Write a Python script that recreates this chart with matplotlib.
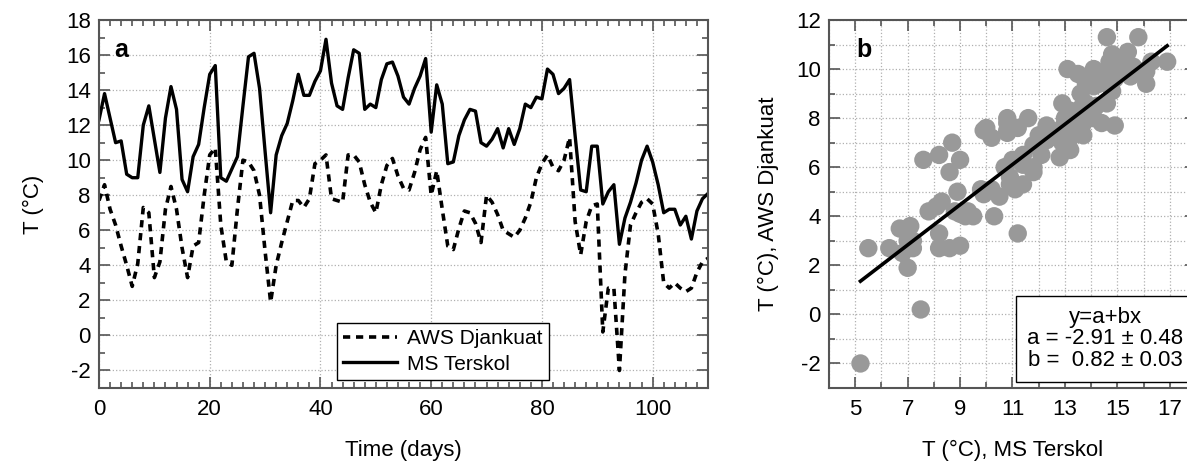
import numpy as np
import matplotlib.pyplot as plt
from matplotlib.ticker import MultipleLocator

plt.rcParams['font.family'] = ['Liberation Sans', 'DejaVu Sans']
plt.rcParams['axes.unicode_minus'] = False

# Daily mean air temperature, days 0..110

days = np.arange(0, 111)

t_terskol = [12.3, 13.8, 12.4, 11.0, 11.1, 9.2, 9.0, 9.0, 12.0, 13.1,
             11.2, 9.3, 12.4, 14.2, 12.9, 8.9, 8.2, 10.2, 10.9, 13.0,
             14.9, 15.4, 9.0, 8.8, 9.5, 10.2, 13.1, 15.9, 16.1, 14.1,
             10.5, 7.0, 10.3, 11.4, 12.1, 13.4, 14.9, 13.7, 13.7, 14.5,
             15.1, 16.9, 14.4, 13.1, 12.9, 14.7, 16.3, 16.1, 12.9, 13.2,
             13.0, 14.6, 15.5, 15.6, 14.8, 13.6, 13.2, 14.1, 14.8, 15.8,
             11.6, 14.3, 13.2, 9.8, 9.9, 11.4, 12.3, 12.9, 12.8, 11.0,
             10.8, 11.2, 11.8, 10.7, 11.8, 10.9, 11.8, 13.2, 13.0, 13.6,
             13.5, 15.2, 14.9, 13.8, 14.1, 14.6, 11.4, 8.3, 8.2, 10.8,
             10.8, 7.5, 8.2, 8.6, 5.2, 6.7, 7.6, 8.7, 10.0, 10.8,
             9.9, 8.6, 7.0, 7.2, 7.2, 6.3, 6.8, 5.5, 7.1, 7.8,
             8.1]

t_djankuat = [7.7, 8.6, 7.2, 6.3, 5.1, 4.0, 2.8, 4.1, 7.3, 7.0,
              3.3, 4.2, 7.2, 8.5, 7.2, 5.0, 3.3, 5.1, 5.3, 8.0,
              10.3, 10.7, 6.3, 4.2, 4.0, 7.2, 10.0, 9.9, 9.4, 8.0,
              4.8, 1.9, 4.0, 5.3, 6.5, 7.7, 7.7, 7.3, 7.8, 9.8,
              10.0, 10.3, 7.8, 7.7, 7.6, 10.3, 10.3, 9.9, 8.6, 7.6,
              7.0, 8.6, 9.7, 10.1, 9.1, 8.4, 8.3, 9.3, 10.6, 11.3,
              8.0, 9.4, 7.2, 5.1, 4.9, 6.1, 7.1, 7.0, 6.4, 5.3,
              8.0, 7.6, 6.9, 6.0, 5.8, 5.6, 6.0, 6.7, 7.6, 9.0,
              9.8, 10.3, 9.6, 9.4, 10.0, 11.3, 6.5, 4.6, 6.5, 7.4,
              7.5, 0.2, 2.7, 2.7, -2.0, 3.5, 6.3, 7.0, 7.6, 7.8,
              7.5, 5.8, 3.0, 2.7, 3.0, 2.7, 2.5, 2.7, 3.6, 4.2,
              4.4]

# Linear fit y = a + b x (values as printed in the figure)
fit_a = -2.91
fit_a_err = 0.48
fit_b = 0.82
fit_b_err = 0.03

spine_col = '#555555'
grid_col = '#b0b0b0'
dot_col = '#999999'

fig = plt.figure(figsize=(11.87, 4.62), dpi=100)
ax1 = fig.add_axes([99 / 1187, 74 / 462, 609 / 1187, 368 / 462])
ax2 = fig.add_axes([829 / 1187, 74 / 462, 367 / 1187, 368 / 462])


def style_axes(ax):
    for sp in ax.spines.values():
        sp.set_color(spine_col)
        sp.set_linewidth(1.5)
    ax.tick_params(which='both', direction='in', top=True, right=True,
                   colors=spine_col, labelcolor='black', labelsize=16, width=1.2)
    ax.tick_params(which='major', length=8)
    ax.tick_params(which='minor', length=4.5)
    ax.tick_params(axis='x', pad=8)
    ax.tick_params(axis='y', pad=6)


# Panel a: time series
ax1.plot(days, t_djankuat, color='black', lw=2.6, ls=(0, (2, 1.6)),
         label='AWS Djankuat')
ax1.plot(days, t_terskol, color='black', lw=2.4, label='MS Terskol')
ax1.set_xlim(0, 110)
ax1.set_ylim(-3, 18)
ax1.xaxis.set_major_locator(MultipleLocator(20))
ax1.xaxis.set_minor_locator(MultipleLocator(2))
ax1.yaxis.set_major_locator(MultipleLocator(2))
ax1.yaxis.set_minor_locator(MultipleLocator(1))
ax1.grid(True, which='major', color=grid_col, ls=':', lw=0.9)
style_axes(ax1)
ax1.set_xlabel('Time (days)', fontsize=16, labelpad=14)
ax1.set_ylabel('T (°C)', fontsize=16, labelpad=16)
ax1.text(0.025, 0.95, 'a', transform=ax1.transAxes, fontsize=18,
         fontweight='bold', va='top', ha='left')
leg = ax1.legend(loc='lower left', bbox_to_anchor=(0.39, 0.022), fontsize=15,
                 handlelength=2.6, fancybox=False, framealpha=1,
                 borderpad=0.3, labelspacing=0.3, handletextpad=0.5,
                 borderaxespad=0.0)
leg.get_frame().set_edgecolor('black')
leg.get_frame().set_linewidth(1.0)

# Panel b: scatter of daily pairs with linear fit
ax2.scatter(t_terskol, t_djankuat, s=175, color=dot_col, edgecolors='none',
            zorder=2)
x_fit = np.array([min(t_terskol), max(t_terskol)])
ax2.plot(x_fit, fit_a + fit_b * x_fit, color='black', lw=2.6, zorder=3)
ax2.set_xlim(4, 18)
ax2.set_ylim(-3, 12)
ax2.set_xticks([5, 7, 9, 11, 13, 15, 17])
ax2.xaxis.set_minor_locator(MultipleLocator(1))
ax2.yaxis.set_major_locator(MultipleLocator(2))
ax2.yaxis.set_minor_locator(MultipleLocator(1))
ax2.grid(True, which='both', color=grid_col, ls=':', lw=0.9, zorder=0)
ax2.set_axisbelow(True)
style_axes(ax2)
ax2.set_xlabel('T (°C), MS Terskol', fontsize=16, labelpad=14)
ax2.set_ylabel('T (°C), AWS Djankuat', fontsize=16, labelpad=12)
ax2.text(0.075, 0.95, 'b', transform=ax2.transAxes, fontsize=18,
         fontweight='bold', va='top', ha='left')
fit_txt = ('y=a+bx\n'
           f'a = {fit_a:.2f} ± {fit_a_err:.2f}\n'
           f'b =  {fit_b:.2f} ± {fit_b_err:.2f}')
ax2.text(14.55, -1.0, fit_txt, fontsize=16, ha='center', va='center',
         multialignment='center', linespacing=1.02, zorder=5,
         bbox=dict(boxstyle='square,pad=0.5', facecolor='white',
                   edgecolor='black', linewidth=1.0))

fig.savefig('out.png', dpi=100)
